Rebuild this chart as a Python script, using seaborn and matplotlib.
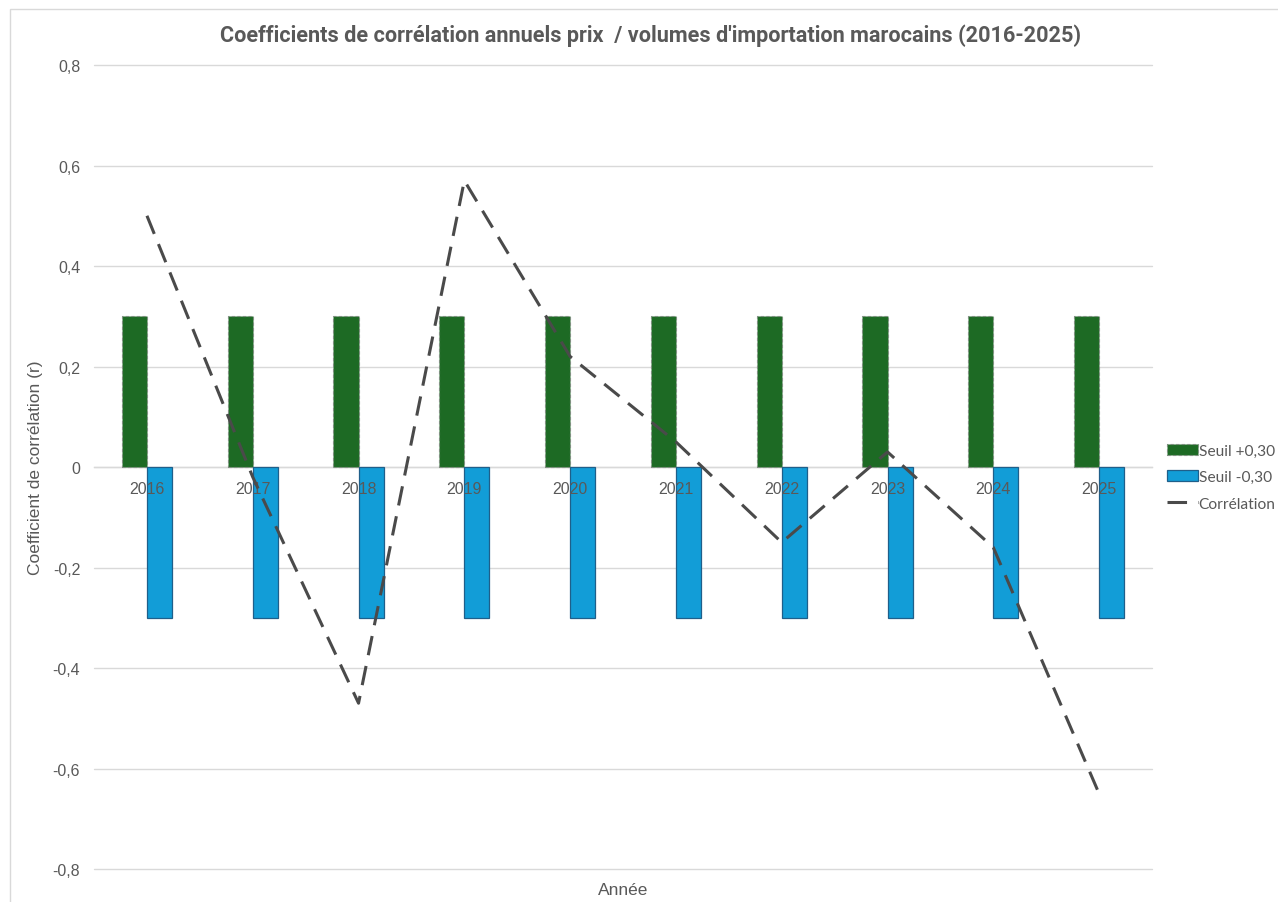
import numpy as np
import pandas as pd
import matplotlib
matplotlib.use("Agg")
import matplotlib.pyplot as plt
from matplotlib.patches import Rectangle
import seaborn as sns

# Annual data
years = ["2016", "2017", "2018", "2019", "2020", "2021", "2022", "2023", "2024", "2025"]
seuil_pos = [0.30] * 10
seuil_neg = [-0.30] * 10
correlation = [0.50, -0.02, -0.47, 0.57, 0.22, 0.05, -0.15, 0.03, -0.16, -0.65]
y_ticks = [-0.8, -0.6, -0.4, -0.2, 0.0, 0.2, 0.4, 0.6, 0.8]
y_tick_labels = ["-0,8", "-0,6", "-0,4", "-0,2", "0", "0,2", "0,4", "0,6", "0,8"]

GREEN = "#1D6A24"
BLUE = "#129DD7"
TEXT = "#595959"
GRID = "#D9D9D9"

sns.set_theme(style="white")
plt.rcParams["font.family"] = ["Liberation Sans", "DejaVu Sans"]

bars = pd.DataFrame({
    "Année": years * 2,
    "valeur": seuil_pos + seuil_neg,
    "série": ["Seuil +0,30"] * 10 + ["Seuil -0,30"] * 10,
})

fig = plt.figure(figsize=(12.78, 9.03), dpi=100)
ax = fig.add_axes([0.0736, 0.0365, 0.8278, 0.8904])

# Chart area frame
fig.patches.append(Rectangle((10 / 1278, -0.1), 1.2, 1 - 10 / 903 + 0.1,
                             transform=fig.transFigure, fill=False,
                             edgecolor="#D9D9D9", linewidth=1.0, zorder=0))

sns.barplot(data=bars, x="Année", y="valeur", hue="série",
            palette=[GREEN, BLUE], width=0.475, ax=ax, zorder=2,
            legend=False, saturation=1)

# Edge styles: dashed grey for the positive threshold, dark blue for the negative
n = len(years)
for i, patch in enumerate(ax.patches):
    if i < n:
        patch.set_edgecolor("#7F8F80")
        patch.set_linestyle((0, (3, 2)))
        patch.set_linewidth(0.8)
    else:
        patch.set_edgecolor("#1F5F8A")
        patch.set_linewidth(0.9)

sns.lineplot(x=np.arange(n), y=correlation, ax=ax, color="#4A4A4A",
             linewidth=2.2, linestyle=(0, (6.4, 3.6)), zorder=4)

ax.set_ylim(-0.8, 0.8)
ax.set_xlim(-0.5, n - 0.5)
ax.set_yticks(y_ticks)
ax.set_yticklabels(y_tick_labels)
ax.yaxis.grid(True, color=GRID, linewidth=1.0, zorder=0)
ax.set_axisbelow(True)
for gl in ax.get_ygridlines():
    gl.set_clip_on(False)
# category labels sit on top of the bars
ax.xaxis.set_zorder(3)

for side in ["top", "right", "left"]:
    ax.spines[side].set_visible(False)
ax.spines["bottom"].set_position(("data", 0))
ax.spines["bottom"].set_color(GRID)
ax.spines["bottom"].set_linewidth(1.0)
ax.spines["bottom"].set_zorder(1)

ax.tick_params(axis="y", length=0, pad=10, labelsize=11.5, labelcolor=TEXT)
ax.tick_params(axis="x", length=0, pad=10, labelsize=11.5, labelcolor=TEXT)

ax.set_xlabel("Année", fontsize=12.5, color=TEXT)
ax.xaxis.set_label_coords(0.5, -0.016)
ax.set_ylabel("Coefficient de corrélation (r)", fontsize=12.5, color=TEXT)
ax.yaxis.set_label_coords(-0.048, 0.5)

fig.text(0.509, 0.960,
         "Coefficients de corrélation annuels prix  / volumes d'importation marocains (2016-2025)",
         ha="center", va="center", fontsize=15.6, fontweight="bold", color=TEXT,
         family=["Roboto", "DejaVu Sans"])

# Legend
handles = [
    Rectangle((0, 0), 1, 1, facecolor=GREEN, edgecolor="#7F8F80", linestyle=(0, (3, 2)), linewidth=0.8),
    Rectangle((0, 0), 1, 1, facecolor=BLUE, edgecolor="#1F5F8A", linewidth=0.9),
    plt.Line2D([0], [0], color="#4A4A4A", linewidth=2.2, linestyle=(0, (6.4, 3.6))),
]
leg = fig.legend(handles, ["Seuil +0,30", "Seuil -0,30", "Corrélation"],
                 loc="center left", bbox_to_anchor=(0.913, 0.4705),
                 frameon=False, fontsize=11.2, handlelength=2.0, handleheight=0.7,
                 handletextpad=0.05, labelspacing=0.8, borderaxespad=0,
                 borderpad=0)
for t in leg.get_texts():
    t.set_color(TEXT)
    t.set_family(["Lato", "DejaVu Sans"])

fig.savefig("out.png", dpi=100)
